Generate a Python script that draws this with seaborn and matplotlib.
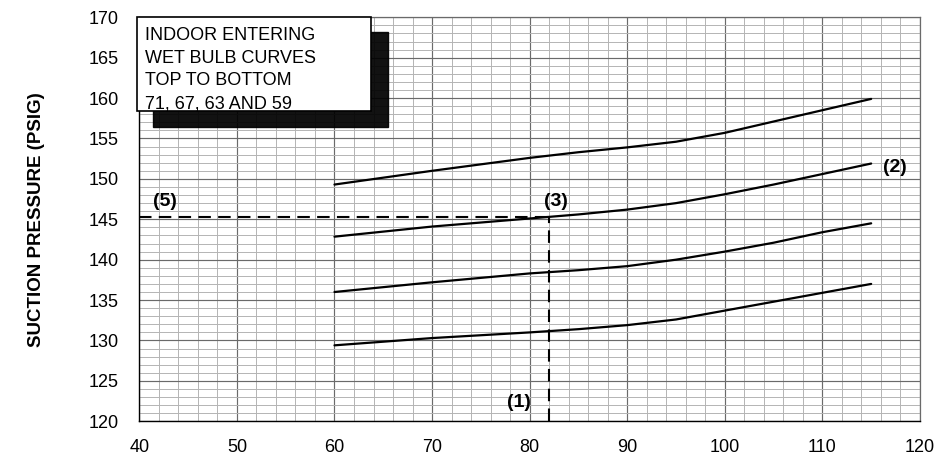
import numpy as np
import pandas as pd
import matplotlib
matplotlib.use("Agg")
import matplotlib.pyplot as plt
from matplotlib.ticker import MultipleLocator
from matplotlib.patches import Rectangle
import seaborn as sns

# Outdoor ambient temperature (deg F) and suction pressure (PSIG) per indoor wet bulb
outdoor_temp = [60, 70, 80, 85, 90, 95, 100, 105, 110, 115]
wb_71 = [149.3, 151.0, 152.6, 153.3, 153.9, 154.6, 155.7, 157.1, 158.5, 159.9]
wb_67 = [142.85, 144.1, 145.1, 145.6, 146.2, 147.0, 148.1, 149.3, 150.6, 151.9]
wb_63 = [136.0, 137.2, 138.3, 138.7, 139.2, 140.0, 141.0, 142.1, 143.4, 144.5]
wb_59 = [129.4, 130.3, 131.0, 131.4, 131.9, 132.6, 133.7, 134.8, 135.9, 137.0]
wet_bulbs = ["71", "67", "63", "59"]

# Worked example: operating point
example_temp = 82
example_psig = 145.3

box_lines = ["INDOOR ENTERING", "WET BULB CURVES", "TOP TO BOTTOM", "71, 67, 63 AND 59"]
y_label = "SUCTION PRESSURE (PSIG)"

x_ticks = list(range(40, 121, 10))
y_ticks = list(range(120, 171, 5))

rows = []
for wb, vals in zip(wet_bulbs, [wb_71, wb_67, wb_63, wb_59]):
    for t, p in zip(outdoor_temp, vals):
        rows.append({"temp": t, "psig": p, "wb": wb})
df = pd.DataFrame(rows)

sns.set_style("white")
plt.rcParams["font.family"] = ["Liberation Sans", "DejaVu Sans"]
plt.rcParams["text.color"] = "black"
plt.rcParams["axes.labelcolor"] = "black"
plt.rcParams["xtick.color"] = "black"
plt.rcParams["ytick.color"] = "black"

fig = plt.figure(figsize=(9.42, 4.55), dpi=100)
ax = fig.add_axes([0.1479, 0.0741, 0.8287, 0.8879])

ax.set_xlim(40, 120)
ax.set_ylim(120, 170)
ax.set_xticks(x_ticks)
ax.set_yticks(y_ticks)
ax.xaxis.set_minor_locator(MultipleLocator(2))
ax.yaxis.set_minor_locator(MultipleLocator(1))
ax.set_axisbelow(True)
ax.grid(which="minor", color="#b4b4b4", lw=0.7)
ax.grid(which="major", color="#6a6a6a", lw=0.85)
ax.tick_params(axis="both", which="minor", length=0)
ax.tick_params(axis="x", which="major", length=5, width=0.9,
               pad=8, labelsize=13)
ax.tick_params(axis="y", which="major", length=6, width=0.9,
               pad=9, labelsize=13)

for side in ("top", "right"):
    ax.spines[side].set_color("#6a6a6a")
    ax.spines[side].set_linewidth(0.9)
for side in ("left", "bottom"):
    ax.spines[side].set_color("black")
    ax.spines[side].set_linewidth(1.0)

sns.lineplot(data=df, x="temp", y="psig", hue="wb", hue_order=wet_bulbs,
             palette=["black"] * 4, legend=False, lw=1.6, ax=ax, zorder=3)

# Example lookup lines
ax.plot([40, example_temp], [example_psig, example_psig], color="black",
        lw=1.5, ls=(0, (6, 3.5)), zorder=4)
ax.plot([example_temp, example_temp], [120, example_psig], color="black",
        lw=1.5, ls=(0, (6, 3.5)), zorder=4)

ax.set_xlabel("")
ax.set_ylabel(y_label, fontsize=13.5, fontweight="bold", labelpad=31)

lab = dict(fontsize=14, fontweight="bold", ha="center", va="center", zorder=5)
ax.text(78.9, 122.3, "(1)", **lab)
ax.text(117.4, 151.4, "(2)", **lab)
ax.text(82.7, 147.2, "(3)", **lab)
ax.text(42.6, 147.2, "(5)", **lab)

# Legend box with drop shadow
W, H = 942, 455
shadow = Rectangle((153 / W, 1 - 127 / H), (388 - 153) / W, (127 - 32) / H,
                   transform=fig.transFigure, facecolor="black", edgecolor="black",
                   alpha=0.93, zorder=6, clip_on=False)
box = Rectangle((137 / W, 1 - 111 / H), (371 - 137) / W, (111 - 17) / H,
                transform=fig.transFigure, facecolor="white", edgecolor="black",
                lw=1.2, zorder=7, clip_on=False)
ax.add_patch(shadow)
ax.add_patch(box)
for i, line in enumerate(box_lines):
    ax.text(145 / W, 1 - (40 + 22.7 * i) / H, line, transform=fig.transFigure,
            fontsize=13, ha="left", va="baseline", zorder=8)

fig.savefig("out.png", dpi=100)
